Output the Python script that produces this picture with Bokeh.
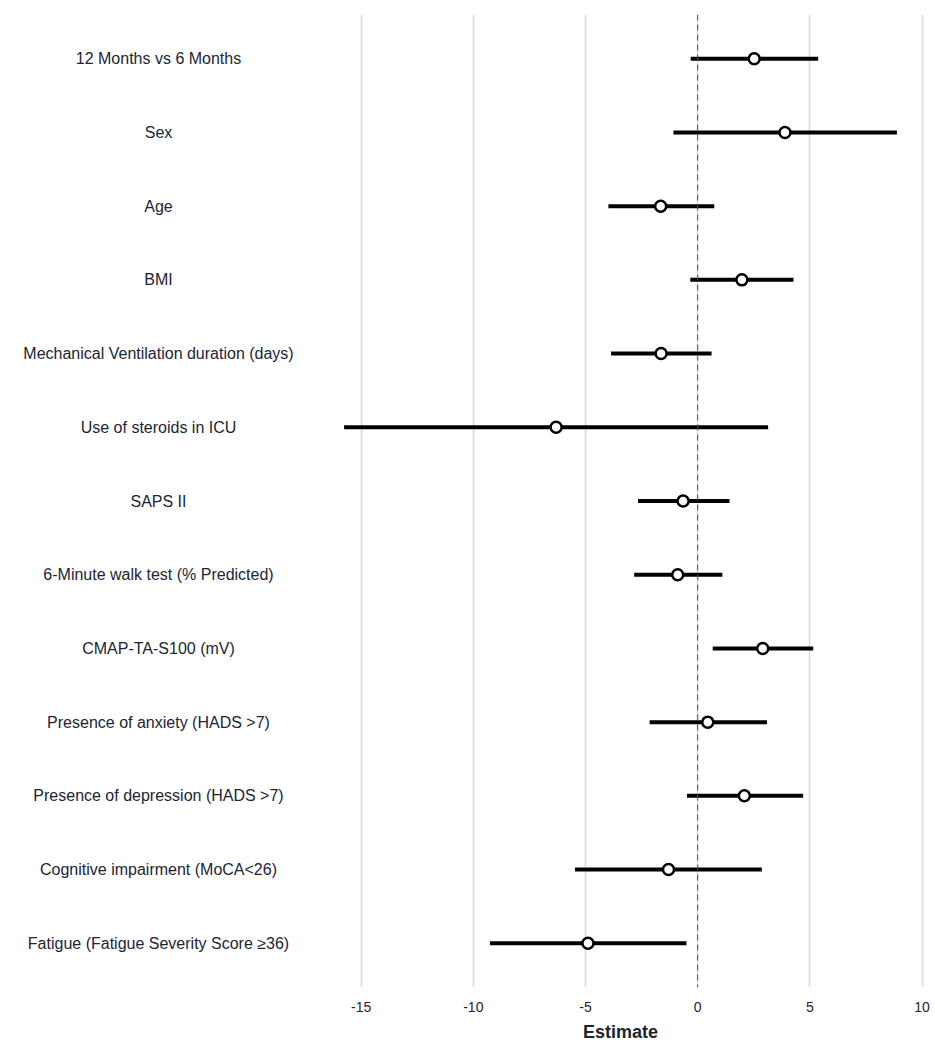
from bokeh.plotting import figure
from bokeh.layouts import row
from bokeh.models import ColumnDataSource, FixedTicker, Range1d, Span, CustomJSTickFormatter
from bokeh.core.properties import value
from bokeh.embed import file_html
from bokeh.resources import INLINE

labels = [
    "12 Months vs 6 Months",
    "Sex",
    "Age",
    "BMI",
    "Mechanical Ventilation duration (days)",
    "Use of steroids in ICU",
    "SAPS II",
    "6-Minute walk test (% Predicted)",
    "CMAP-TA-S100 (mV)",
    "Presence of anxiety (HADS >7)",
    "Presence of depression (HADS >7)",
    "Cognitive impairment (MoCA<26)",
    "Fatigue (Fatigue Severity Score \u226536)",
]
estimate = [2.52, 3.89, -1.65, 1.97, -1.63, -6.31, -0.65, -0.89, 2.90, 0.45, 2.08, -1.30, -4.89]
lower = [-0.31, -1.08, -3.98, -0.33, -3.86, -15.76, -2.66, -2.83, 0.67, -2.14, -0.48, -5.47, -9.26]
upper = [5.37, 8.88, 0.74, 4.27, 0.62, 3.14, 1.42, 1.10, 5.15, 3.09, 4.70, 2.86, -0.50]
x_ticks = [-15, -10, -5, 0, 5, 10]

pos = list(range(1, len(labels) + 1))
src = ColumnDataSource(dict(label=labels, est=estimate, lo=lower, hi=upper, y=pos,
                            xl=[0.5] * len(labels)))

TEXT_COLOR = "#1c2533"
FONT = "Liberation Sans"
y_range = Range1d(len(labels) + 0.6, 0.4)

# label column
lab = figure(width=316, height=1050, x_range=Range1d(0, 1), y_range=y_range,
             toolbar_location=None, output_backend="svg",
             min_border_left=0, min_border_right=0, min_border_top=14, min_border_bottom=63)
lab.outline_line_color = None
lab.axis.visible = False
lab.grid.visible = False
lab.text(x="xl", y="y", text="label", source=src, text_align="center",
         text_baseline="middle", text_font=value(FONT), text_font_size="16px",
         text_color=TEXT_COLOR)

# forest plot
p = figure(width=619, height=1050, x_range=Range1d(-16.99, 10.11), y_range=y_range,
           toolbar_location=None, output_backend="svg",
           min_border_left=0, min_border_right=11, min_border_top=14, min_border_bottom=63)
p.outline_line_color = None
p.yaxis.visible = False
p.ygrid.visible = False
p.xgrid.ticker = FixedTicker(ticks=x_ticks)
p.xgrid.grid_line_color = "#dcdcdc"
p.xgrid.grid_line_width = 1.6
p.xaxis.ticker = FixedTicker(ticks=x_ticks)
p.xaxis.formatter = CustomJSTickFormatter(code="return tick.toString();")
p.xaxis.axis_line_color = None
p.xaxis.major_tick_line_color = None
p.xaxis.minor_tick_line_color = None
p.xaxis.major_label_standoff = 8
p.xaxis.major_label_text_font = FONT
p.xaxis.major_label_text_font_size = "14px"
p.xaxis.major_label_text_color = TEXT_COLOR
p.xaxis.axis_label = "Estimate"
p.xaxis.axis_label_text_font = FONT
p.xaxis.axis_label_text_font_style = "bold"
p.xaxis.axis_label_text_font_size = "18px"
p.xaxis.axis_label_text_color = TEXT_COLOR
p.xaxis.axis_label_standoff = 7

p.add_layout(Span(location=0, dimension="height", line_color="#555555",
                  line_width=1, line_dash="6 4"))
p.segment(x0="lo", x1="hi", y0="y", y1="y", source=src, line_color="black", line_width=4)
p.scatter(x="est", y="y", source=src, size=11, fill_color="white",
          line_color="black", line_width=2.5)

layout = row(lab, p)
open("out.html", "w").write(file_html(layout, INLINE))
